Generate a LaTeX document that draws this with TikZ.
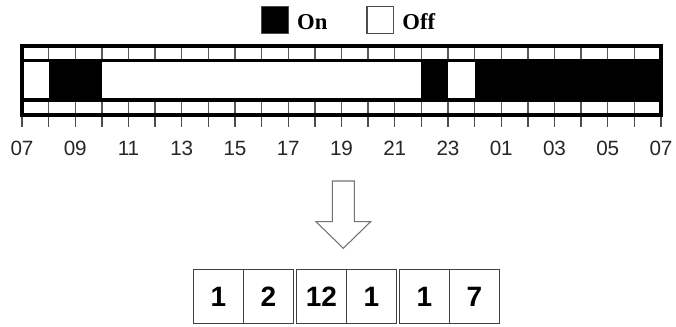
\documentclass[tikz,border=0pt]{standalone}
\usepackage{fontspec}
\setmainfont{Liberation Serif}
\setsansfont{Liberation Sans}
\usetikzlibrary{positioning}

\begin{document}
\begin{tikzpicture}[x=0.75pt, y=-0.75pt,
    keybox/.style={rectangle, draw=black!70, line width=0.8pt, minimum size=20pt, inner sep=0pt},
    keytext/.style={font=\fontsize{17}{17}\selectfont\bfseries, inner sep=0pt},
    divider/.style={draw=black!65, line width=1pt},
    hourtick/.style={draw=black!70, line width=1pt},
    hourlabel/.style={font=\sffamily\fontsize{15.5}{15.5}\selectfont, text=black!85, inner sep=0pt},
    cell/.style={rectangle, draw=black!75, line width=0.75pt, minimum width=37.5pt, minimum height=40.8pt, inner sep=0pt, font=\sffamily\bfseries\fontsize{21}{21}\selectfont},
    hollow/.style={draw=black!55, line width=0.8pt, fill=white, line join=miter}
]
    \useasboundingbox (0,0) rectangle (676,327);

    % Legend
    \node [keybox, fill=black] (onkey) at (275,20) {};
    \node [keytext, right=6pt of onkey, yshift=-1.5pt] (onlabel) {On};
    \node [keybox, fill=white] (offkey) at (380.3,20) {};
    \node [keytext, right=6pt of offkey, yshift=-1.5pt] (offlabel) {Off};

    % On periods (middle strip)
    \foreach \a/\b in {1/3, 15/16, 17/24}
        \fill ({22+26.625*\a},60.7) rectangle ({22+26.625*\b},100);

    % Hour cells, top and bottom strips
    \foreach \h in {1,...,23} {
        \draw [divider] ({22+26.625*\h},46.3) -- ++(0,14.4);
        \draw [divider] ({22+26.625*\h},100) -- ++(0,15.3);
    }
    \draw [line width=2.4pt] (22,60.7) -- (661,60.7);
    \draw [line width=2.4pt] (22,100) -- (661,100);
    \draw [line width=3pt] (22,46.3) rectangle (661,115.3);

    % Axis
    \foreach \h in {0,...,24}
        \draw [hourtick] ({22+26.625*\h},117) -- ++(0,10);
    \foreach \h/\t in {0/07, 2/09, 4/11, 6/13, 8/15, 10/17, 12/19, 14/21, 16/23, 18/01, 20/03, 22/05, 24/07}
        \node [hourlabel] (lbl\h) at ({22+26.625*\h},148) {\t};

    % Down arrow
    \draw [hollow] (332.3,181) -- (354.3,181) -- (354.3,221.7) -- (370.6,221.7)
        -- (343.3,248.3) -- (316,221.7) -- (332.3,221.7) -- cycle;

    % Encoded run lengths
    \node [cell] (cell1) at (218.5,296.5) {1};
    \node [cell] (cell2) at (268.5,296.5) {2};
    \node [cell] (cell3) at (321.5,296.5) {12};
    \node [cell] (cell4) at (371.5,296.5) {1};
    \node [cell] (cell5) at (424.5,296.5) {1};
    \node [cell] (cell6) at (474.5,296.5) {7};

\end{tikzpicture}
\end{document}
